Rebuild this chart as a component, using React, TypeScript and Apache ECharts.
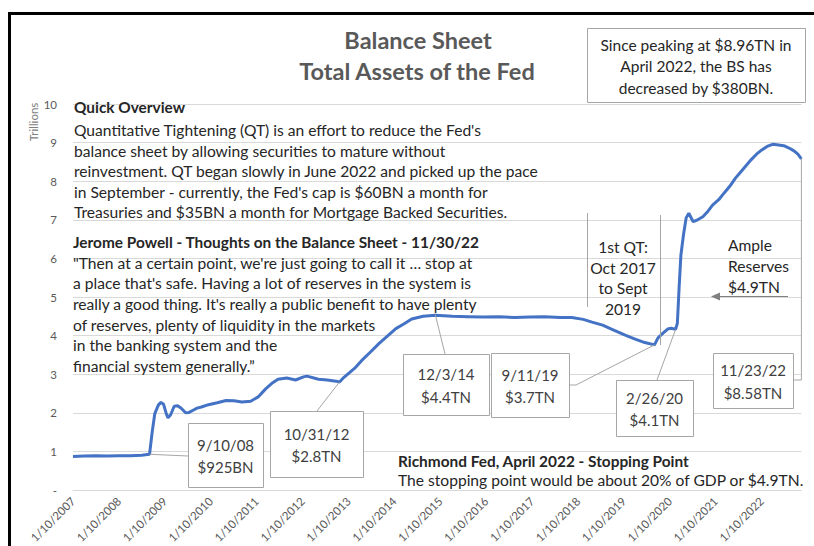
import React, { useEffect, useRef } from 'react';
import * as echarts from 'echarts';

// Fed total assets, trillions of USD
const dates: string[] = [
  '2007-01-10', '2007-04-11', '2007-07-11', '2007-10-10', '2008-01-09', '2008-04-09', '2008-07-09',
  '2008-09-10', '2008-10-01', '2008-10-22', '2008-11-19', '2008-12-10', '2008-12-31', '2009-01-21',
  '2009-02-04', '2009-02-25', '2009-03-25', '2009-04-22', '2009-05-20', '2009-06-24', '2009-07-22',
  '2009-08-19', '2009-09-23', '2009-10-28', '2009-12-23', '2010-03-03', '2010-05-12', '2010-07-14',
  '2010-09-15', '2010-11-24', '2011-01-26', '2011-03-23', '2011-05-18', '2011-06-29', '2011-09-07',
  '2011-11-16', '2012-01-18', '2012-02-15', '2012-05-16', '2012-07-25', '2012-10-03', '2012-10-31',
  '2012-12-05', '2013-02-27', '2013-04-24', '2013-06-26', '2013-09-11', '2013-11-20', '2014-01-22',
  '2014-03-26', '2014-05-28', '2014-08-27', '2014-12-03', '2015-04-15', '2015-08-19', '2015-12-16',
  '2016-04-20', '2016-08-24', '2016-12-21', '2017-04-19', '2017-08-23', '2017-11-22', '2018-02-21',
  '2018-05-02', '2018-07-25', '2018-10-17', '2019-01-16', '2019-04-10', '2019-06-26', '2019-09-11',
  '2019-10-09', '2019-11-20', '2019-12-25', '2020-01-22', '2020-02-26', '2020-03-11', '2020-03-25',
  '2020-04-08', '2020-04-29', '2020-05-20', '2020-06-10', '2020-07-15', '2020-08-19', '2020-09-30',
  '2020-11-04', '2020-12-16', '2021-02-03', '2021-03-17', '2021-05-05', '2021-06-16', '2021-07-28',
  '2021-09-08', '2021-10-20', '2021-12-01', '2022-01-12', '2022-02-23', '2022-04-13', '2022-05-25',
  '2022-07-06', '2022-08-17', '2022-09-28', '2022-10-26', '2022-11-23',
];
const values: number[] = [
  0.87, 0.88, 0.89, 0.88, 0.89, 0.89, 0.9,
  0.925, 1.5, 1.98, 2.2, 2.27, 2.22, 1.98,
  1.87, 1.95, 2.17, 2.18, 2.12, 2.0, 2.01,
  2.06, 2.12, 2.15, 2.21, 2.26, 2.32, 2.31,
  2.28, 2.3, 2.42, 2.62, 2.78, 2.87, 2.9,
  2.85, 2.93, 2.95, 2.87, 2.85, 2.82, 2.8,
  2.92, 3.15, 3.35, 3.55, 3.8, 4.0, 4.18,
  4.3, 4.43, 4.5, 4.53, 4.5, 4.49, 4.48,
  4.49, 4.47, 4.48, 4.49, 4.47, 4.47, 4.42,
  4.35, 4.27, 4.15, 4.02, 3.91, 3.82, 3.76,
  3.94, 4.07, 4.17, 4.19, 4.16, 4.32, 5.25,
  6.08, 6.62, 7.05, 7.17, 6.95, 7.0, 7.08,
  7.2, 7.38, 7.52, 7.69, 7.88, 8.08, 8.24,
  8.4, 8.56, 8.7, 8.81, 8.9, 8.96, 8.94,
  8.92, 8.86, 8.78, 8.7, 8.58,
];

const xTickPrefix = '1/10/';
const xStartYear = 2007;
const yZeroLabel = '-';

const noteDates: string[] = ['2008-09-10', '2012-10-31', '2014-12-03', '2019-09-11', '2020-02-26', '2022-11-23'];
const noteLabels: string[] = ['9/10/08\n$925BN', '10/31/12\n$2.8TN', '12/3/14\n$4.4TN', '9/11/19\n$3.7TN', '2/26/20\n$4.1TN', '11/23/22\n$8.58TN'];

const titleLines = ['Balance Sheet', 'Total Assets of the Fed'];
const peakNote = 'Since peaking at $8.96TN in\nApril 2022, the BS has\ndecreased by $380BN.';
const overviewHead = 'Quick Overview';
const overviewBody = [
  "Quantitative Tightening (QT) is an effort to reduce the Fed's",
  'balance sheet by allowing securities to mature without',
  'reinvestment. QT began slowly in June 2022 and picked up the pace',
  "in September - currently, the Fed's cap is $60BN a month for",
  'Treasuries and $35BN a month for Mortgage Backed Securities.',
];
const powellHead = 'Jerome Powell - Thoughts on the Balance Sheet - 11/30/22';
const powellBody = [
  "\"Then at a certain point, we're just going to call it \u2026 stop at",
  "a place that's safe. Having a lot of reserves in the system is",
  "really a good thing. It's really a public benefit to have plenty",
  'of reserves, plenty of liquidity in the markets',
  'in the banking system and the',
  'financial system generally.\u201D',
];
const richmondHead = 'Richmond Fed, April 2022 - Stopping Point';
const richmondBody = 'The stopping point would be about 20% of GDP or $4.9TN.';
const qtNote = '1st QT:\nOct 2017\nto Sept\n2019';
const ampleNote = 'Ample\nReserves\n$4.9TN';

const FONT = 'Lato, "Open Sans", sans-serif';

export default function App() {
  const ref = useRef<HTMLDivElement>(null);
  useEffect(() => {
    const chart = echarts.init(ref.current!, null, { renderer: 'svg' });
    const T0 = Date.UTC(2007, 0, 10);
    const toYrs = (s: string) => {
      const [y, m, d] = s.split('-').map(Number);
      return (Date.UTC(y, m - 1, d) - T0) / (365.25 * 864e5);
    };
    const data = dates.map((d, i) => [toYrs(d), values[i]]);
    const xMax = toYrs(dates[dates.length - 1]);

    chart.setOption({
      animation: false,
      grid: { left: 73, right: 12.6, top: 104, bottom: 56 },
      xAxis: {
        type: 'value', min: 0, max: xMax, interval: 1,
        axisLine: { show: true, lineStyle: { color: '#d9d9d9' } },
        axisTick: { show: false },
        splitLine: { show: false },
        axisLabel: {
          rotate: 45, showMaxLabel: false, color: '#595959', fontSize: 11.5, fontFamily: FONT, margin: 9,
          formatter: (v: number) => xTickPrefix + (xStartYear + Math.round(v)),
        },
      },
      yAxis: {
        type: 'value', min: 0, max: 10, interval: 1,
        axisLine: { show: false }, axisTick: { show: false },
        splitLine: { lineStyle: { color: '#d9d9d9', width: 1 } },
        axisLabel: {
          color: '#595959', fontSize: 11.5, fontFamily: FONT, margin: 16,
          formatter: (v: number) => (v === 0 ? yZeroLabel : String(v)),
        },
      },
      series: [{
        type: 'line', data, showSymbol: false, symbol: 'none',
        lineStyle: { color: '#4472C4', width: 3 }, itemStyle: { color: '#4472C4' }, z: 3,
      }],
    });

    const pt = (d: string) => chart.convertToPixel({ gridIndex: 0 } as any, [toYrs(d), values[dates.indexOf(d)]]) as number[];

    const txt = (x: number, y: number, text: string, o: any = {}) => ({
      type: 'text', x, y, z: 50, silent: true,
      style: {
        text, fill: o.fill || '#262626', fontSize: o.size || 15.6, fontWeight: o.bold ? 'bold' : 'normal',
        fontFamily: FONT, textAlign: o.align || 'left', textVerticalAlign: o.valign || 'middle',
        lineHeight: o.lh || 20.6,
      },
      rotation: o.rot || 0,
    });
    const line = (x1: number, y1: number, x2: number, y2: number, color = '#a6a6a6') => ({
      type: 'line', z: 40, silent: true,
      shape: { x1, y1, x2, y2 }, style: { stroke: color, lineWidth: 1 },
    });
    const poly = (points: number[][], color = '#a6a6a6') => ({
      type: 'polyline', z: 40, silent: true,
      shape: { points }, style: { stroke: color, lineWidth: 1, fill: 'none' },
    });
    const box = (x: number, y: number, w: number, h: number) => ({
      type: 'rect', z: 45, silent: true,
      shape: { x: x + 0.5, y: y + 0.5, width: w, height: h },
      style: { fill: '#ffffff', stroke: '#a6a6a6', lineWidth: 1 },
    });

    const boxes = [
      { x: 188, y: 423, w: 75, h: 64, lead: (p: number[]) => [[188, 456], [p[0], p[1]]] },
      { x: 270, y: 411, w: 93, h: 66, lead: (p: number[]) => [[317, 411], [p[0], p[1]]] },
      { x: 403, y: 354, w: 86, h: 61, lead: (p: number[]) => [[445, 354], [p[0], p[1]]] },
      { x: 491, y: 353, w: 78, h: 64, lead: (p: number[]) => [[569, 385], [576, 385], [p[0], p[1]]] },
      { x: 616, y: 380, w: 77, h: 56, lead: (p: number[]) => [[657, 380], [p[0], p[1]]] },
      { x: 713, y: 353, w: 80, h: 55, lead: (p: number[]) => [[793, 380], [p[0], 380], [p[0], p[1]]] },
    ];

    const g: any[] = [];
    // outer frame
    g.push({ type: 'rect', z: 60, silent: true, shape: { x: 9.5, y: 13.5, width: 900, height: 700 }, style: { fill: 'none', stroke: '#000', lineWidth: 3 } });
    // title
    g.push(txt(418, 40, titleLines[0], { bold: true, size: 23.5, align: 'center', fill: '#595959' }));
    g.push(txt(417, 71, titleLines[1], { bold: true, size: 23.5, align: 'center', fill: '#595959' }));
    // peak box
    g.push(box(587, 28, 218, 74));
    g.push(txt(696, 66, peakNote, { align: 'center', lh: 21.5, size: 15.5 }));
    // axis name
    g.push(txt(33, 122, 'Trillions', { size: 11.5, fill: '#7f7f7f', align: 'center', rot: Math.PI / 2 }));
    // overview
    g.push(txt(74, 107, overviewHead, { bold: true, size: 15.4 }));
    g.push(txt(74, 119.7, overviewBody.join('\n'), { valign: 'top' }));
    // powell
    g.push(txt(73, 242, powellHead, { bold: true, size: 15.4 }));
    g.push(txt(73, 252.6, powellBody.join('\n'), { valign: 'top', lh: 20.6 }));
    // richmond
    g.push(txt(398, 461, richmondHead, { bold: true, size: 15.4 }));
    g.push(txt(398, 480, richmondBody));
    // QT
    g.push(line(587.5, 213, 587.5, 307));
    g.push(line(660.5, 215, 660.5, 345));
    g.push(txt(623, 278, qtNote, { align: 'center', lh: 20.8 }));
    // ample reserves
    g.push(txt(728, 266, ampleNote, { lh: 21 }));
    g.push(line(788, 296.5, 718, 296.5, '#808080'));
    g.push({ type: 'polygon', z: 40, silent: true, shape: { points: [[711, 296.5], [720, 292.5], [720, 300.5]] }, style: { fill: '#808080' } });
    // annotation boxes
    noteDates.forEach((d, i) => {
      const b = boxes[i];
      const p = pt(d);
      g.push(poly(b.lead(p)));
      g.push(box(b.x, b.y, b.w, b.h));
      g.push(txt(b.x + b.w / 2, b.y + b.h / 2 + 1, noteLabels[i], { align: 'center', size: 15, fill: '#404040', lh: 22.5 }));
    });

    chart.setOption({ graphic: g });
    return () => chart.dispose();
  }, []);
  return <div ref={ref} style={{ position: 'absolute', left: 0, top: 0, width: 814, height: 546, background: '#fff' }} />;
}
